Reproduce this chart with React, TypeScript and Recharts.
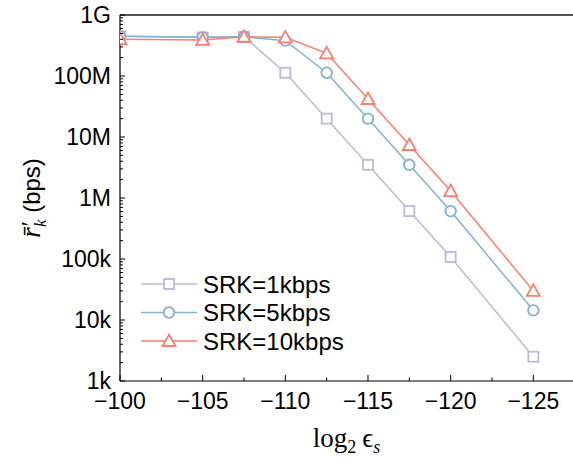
import React from 'react';
import { LineChart, Line, XAxis, YAxis, Legend, ReferenceLine } from 'recharts';

// log2 of epsilon_s
const epsLog2 = [-100, -105, -107.5, -110, -112.5, -115, -117.5, -120, -125];
// averaged rate in bps
const srk1 = [4.5e8, 4.3e8, 4.4e8, 1.13e8, 2.0e7, 3.5e6, 6.1e5, 1.08e5, 2.5e3];
const srk5 = [4.5e8, 4.3e8, 4.4e8, 3.8e8, 1.13e8, 2.0e7, 3.5e6, 6.1e5, 1.44e4];
const srk10 = [4.0e8, 3.9e8, 4.4e8, 4.3e8, 2.35e8, 4.2e7, 7.4e6, 1.3e6, 3.0e4];

const seriesKeys = ['srk1', 'srk5', 'srk10'];
const seriesNames = ['SRK=1kbps', 'SRK=5kbps', 'SRK=10kbps'];
const seriesColors = ['#BEB8DC', '#82B0D2', '#FA7F6F'];
const seriesMarkers = ['square', 'circle', 'triangle'];

const xMajorTicks = [-100, -105, -110, -115, -120, -125];
const xMinorTicks = [-102.5, -107.5, -112.5, -117.5, -122.5];
const yMajorTicks = [1e3, 1e4, 1e5, 1e6, 1e7, 1e8, 1e9];
const yTickLabels = ['1k', '10k', '100k', '1M', '10M', '100M', '1G'];

const data = epsLog2.map((x, i) => ({ x, srk1: srk1[i], srk5: srk5[i], srk10: srk10[i] }));

const yMinorTicks: number[] = [];
yMajorTicks.slice(0, -1).forEach((d) => {
  for (let m = 2; m <= 9; m++) yMinorTicks.push(d * m);
});

const SANS = '"Liberation Sans", Arial, sans-serif';
const SERIF = '"Liberation Serif", "Times New Roman", serif';
const TICK_FONT = 23;

const Marker = ({ kind, cx, cy, color }: any) => {
  if (cx == null || cy == null) return null;
  const common = { fill: '#fff', stroke: color, strokeWidth: 1.8 };
  if (kind === 'square') return <rect x={cx - 5} y={cy - 5} width={10} height={10} {...common} />;
  if (kind === 'circle') return <circle cx={cx} cy={cy} r={5.3} {...common} />;
  return (
    <polygon
      points={`${cx},${cy - 6.5} ${cx + 6.5},${cy + 5} ${cx - 6.5},${cy + 5}`}
      strokeLinejoin="miter"
      {...common}
    />
  );
};

const YTick = ({ x, y, payload, tickMargin }: any) => {
  const axisX = x + tickMargin;
  const idx = yMajorTicks.indexOf(payload.value);
  const major = idx >= 0;
  return (
    <g>
      <line x1={axisX} x2={axisX + (major ? 5 : 3)} y1={y} y2={y} stroke="#000" strokeWidth={1} />
      {major && (
        <text x={x} y={y} dy="0.36em" textAnchor="end" fontFamily={SANS} fontSize={TICK_FONT} fill="#000">
          {yTickLabels[idx]}
        </text>
      )}
    </g>
  );
};

const XTick = ({ x, y, payload, tickMargin }: any) => {
  const axisY = y - tickMargin;
  const major = xMajorTicks.includes(payload.value);
  const v = payload.value;
  return (
    <g>
      <line x1={x} x2={x} y1={axisY} y2={axisY - (major ? 6 : 3.5)} stroke="#000" strokeWidth={1} />
      {major && (
        <text x={x} y={y} dy="0.71em" textAnchor="middle" fontFamily={SANS} fontSize={TICK_FONT} fill="#000">
          {v < 0 ? '\u2212' + Math.abs(v) : String(v)}
        </text>
      )}
    </g>
  );
};

const YTitle = ({ viewBox }: any) => {
  const cx = viewBox.x + 34;
  const cy = viewBox.y + viewBox.height / 2;
  return (
    <text transform={`rotate(-90 ${cx} ${cy})`} x={cx} y={cy} dy="0.36em" textAnchor="middle" fill="#000">
      <tspan fontFamily={SERIF} fontStyle="italic" fontSize={27}>{'r\u0304'}</tspan>
      <tspan fontFamily={SERIF} fontSize={24} dx={1} dy={-3}>{'\u2032'}</tspan>
      <tspan fontFamily={SERIF} fontStyle="italic" fontSize={17} dx={-6} dy={9}>k</tspan>
      <tspan fontFamily={SANS} fontSize={24} dy={-6}>{' (bps)'}</tspan>
    </text>
  );
};

const XTitle = ({ viewBox }: any) => {
  const cx = viewBox.x + viewBox.width / 2;
  const by = viewBox.y + 66;
  return (
    <text x={cx} y={by} textAnchor="middle" fill="#000" fontFamily={SERIF} fontSize={27}>
      <tspan>log</tspan>
      <tspan fontSize={18} dy={6}>2</tspan>
      <tspan dy={-6} dx={6}>{'\u03f5'}</tspan>
      <tspan fontSize={18} dy={6} fontStyle="italic">s</tspan>
    </text>
  );
};

const LegendBox = () => (
  <svg width={250} height={88}>
    {seriesNames.map((name, i) => {
      const cy = 14 + i * 28.5;
      return (
        <g key={name}>
          <line x1={0} x2={56} y1={cy} y2={cy} stroke={seriesColors[i]} strokeWidth={1.5} />
          <Marker kind={seriesMarkers[i]} cx={28} cy={cy} color={seriesColors[i]} />
          <text x={62} y={cy} dy="0.36em" fontFamily={SANS} fontSize={24} fill="#000">
            {name}
          </text>
        </g>
      );
    })}
  </svg>
);

export default function App() {
  return (
    <div style={{ position: 'absolute', left: 0, top: 0, background: '#fff' }}>
      <LineChart width={573} height={464} data={data} margin={{ top: 15, right: 0, bottom: 0, left: 0 }}>
        <XAxis
          type="number"
          dataKey="x"
          domain={[-127.4, -100]}
          reversed
          allowDataOverflow
          ticks={[...xMajorTicks, ...xMinorTicks]}
          interval={0}
          height={83}
          tickSize={0}
          tickMargin={12}
          tickLine={false}
          axisLine={{ stroke: '#000', strokeWidth: 1.2 }}
          tick={<XTick tickMargin={12} />}
          label={<XTitle />}
        />
        <YAxis
          scale="log"
          domain={[1e3, 1e9]}
          allowDataOverflow
          ticks={[...yMajorTicks, ...yMinorTicks]}
          interval={0}
          width={120}
          tickSize={0}
          tickMargin={9}
          tickLine={false}
          axisLine={{ stroke: '#000', strokeWidth: 1.2 }}
          tick={<YTick tickMargin={9} />}
          label={<YTitle />}
        />
        <ReferenceLine y={1e9} stroke="#555" strokeWidth={2} />
        {seriesKeys.map((key, i) => (
          <Line
            key={key}
            dataKey={key}
            name={seriesNames[i]}
            stroke={seriesColors[i]}
            strokeWidth={1.5}
            isAnimationActive={false}
            dot={(p: any) => (
              <Marker key={`${key}-${p.index}`} kind={seriesMarkers[i]} cx={p.cx} cy={p.cy} color={seriesColors[i]} />
            )}
            activeDot={false}
          />
        ))}
        <Legend
          layout="horizontal"
          verticalAlign="middle"
          align="center"
          wrapperStyle={{ left: 141, top: 270, width: 250 }}
          content={() => <LegendBox />}
        />
      </LineChart>
    </div>
  );
}
